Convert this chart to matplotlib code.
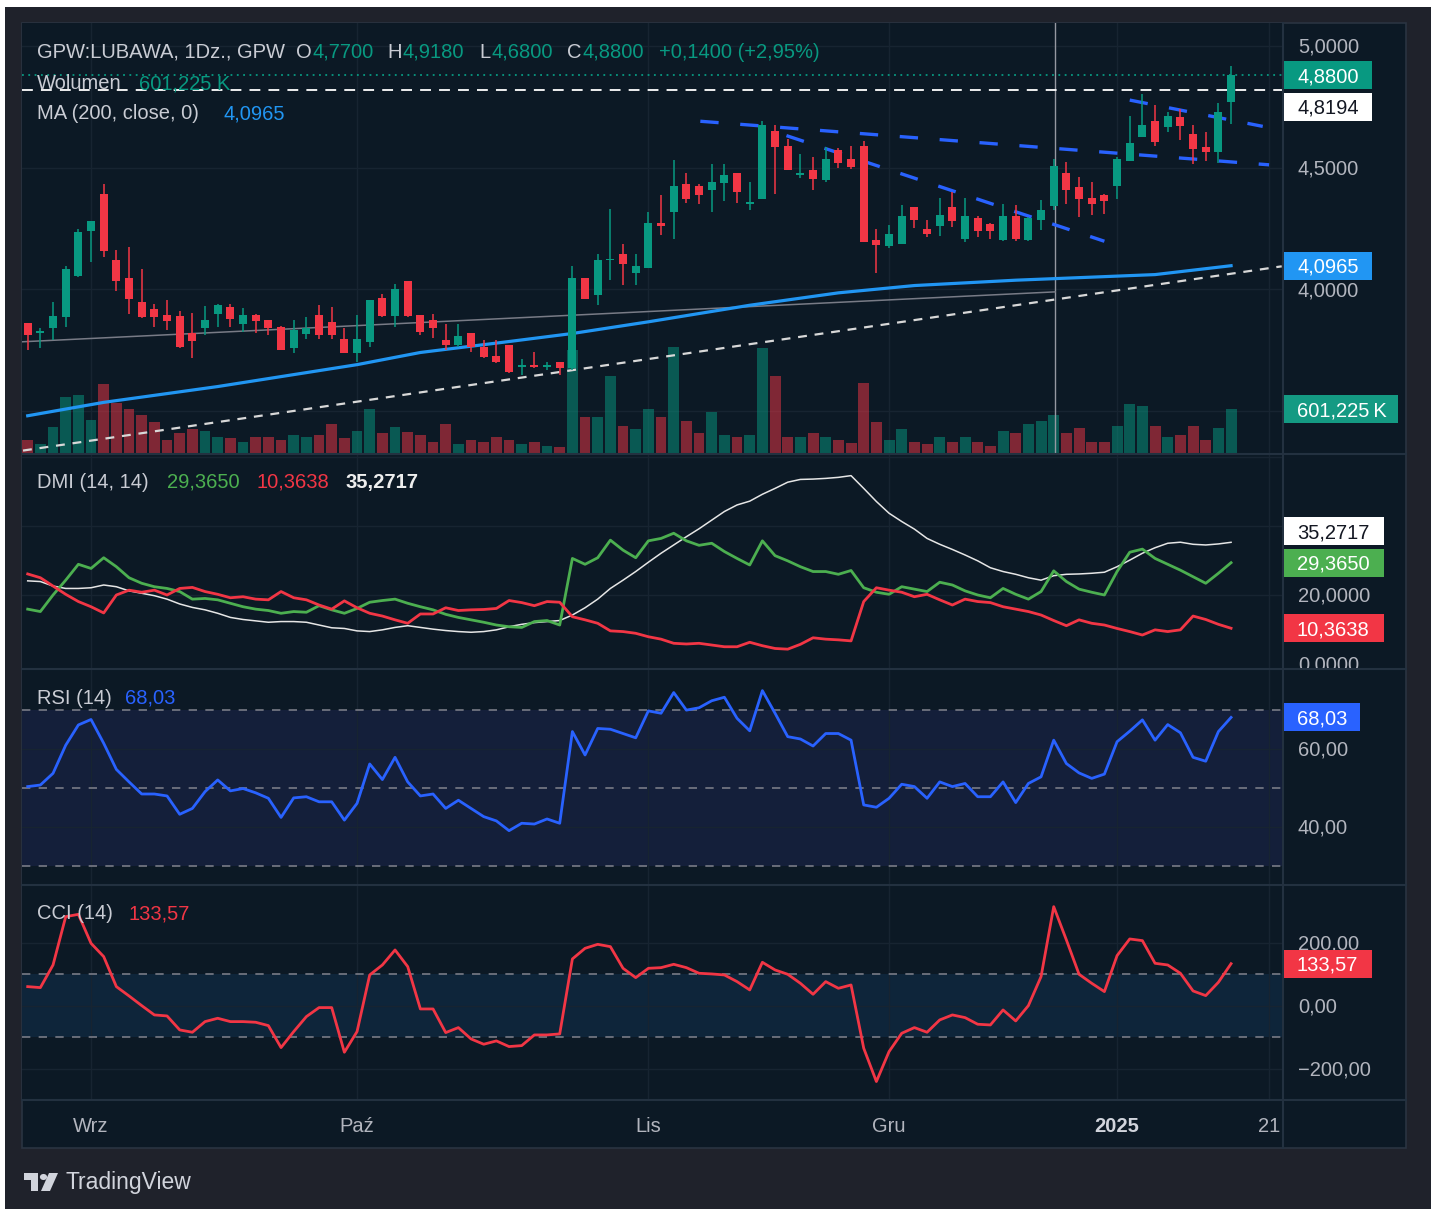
import numpy as np
import matplotlib
matplotlib.use("Agg")
import matplotlib.pyplot as plt
from matplotlib.patches import Rectangle, Circle, Polygon
from matplotlib.lines import Line2D
from matplotlib.transforms import Bbox

# ---- values: GPW:LUBAWA, daily bars, index 0 = 26 Aug 2024 ----
opens = [3.86, 3.82, 3.839, 3.884, 4.053, 4.238, 4.392, 4.119, 4.044, 3.948,
         3.918, 3.896, 3.889, 3.821, 3.842, 3.900, 3.928, 3.857, 3.896, 3.873,
         3.846, 3.757, 3.815, 3.896, 3.866, 3.794, 3.736, 3.784, 3.962, 3.889,
         4.034, 3.893, 3.873, 3.791, 3.770, 3.821, 3.764, 3.725, 3.770, 3.682,
         3.689, 3.679, 3.702, 3.675, 4.044, 3.975, 4.12, 4.146, 4.067, 4.089,
         4.272, 4.317, 4.433, 4.422, 4.406, 4.436, 4.477, 4.35, 4.372, 4.649,
         4.590, 4.47, 4.490, 4.450, 4.57, 4.536, 4.590, 4.204, 4.176, 4.187,
         4.337, 4.246, 4.258, 4.337, 4.208, 4.294, 4.266, 4.204, 4.301, 4.201,
         4.283, 4.340, 4.477, 4.419, 4.374, 4.389, 4.422, 4.525, 4.627, 4.693,
         4.665, 4.709, 4.638, 4.586, 4.563, 4.77]
highs = [3.86, 3.84, 3.948, 4.094, 4.249, 4.279, 4.433, 4.160, 4.173, 4.081,
         3.939, 3.955, 3.91, 3.903, 3.930, 3.94, 3.94, 3.921, 3.90, 3.873,
         3.85, 3.873, 3.884, 3.934, 3.928, 3.839, 3.893, 3.955, 3.982, 4.020,
         4.034, 3.893, 3.90, 3.859, 3.859, 3.821, 3.79, 3.79, 3.770, 3.712,
         3.74, 3.70, 3.702, 4.094, 4.044, 4.146, 4.331, 4.187, 4.146, 4.317,
         4.385, 4.529, 4.477, 4.433, 4.515, 4.515, 4.477, 4.440, 4.690, 4.676,
         4.617, 4.556, 4.542, 4.583, 4.58, 4.590, 4.61, 4.249, 4.262, 4.344,
         4.337, 4.286, 4.376, 4.399, 4.376, 4.30, 4.27, 4.351, 4.344, 4.297,
         4.368, 4.536, 4.522, 4.463, 4.440, 4.39, 4.542, 4.713, 4.802, 4.758,
         4.727, 4.74, 4.676, 4.645, 4.764, 4.918]
lows = [3.75, 3.757, 3.791, 3.846, 4.05, 4.112, 4.133, 3.993, 3.898, 3.88,
        3.846, 3.832, 3.757, 3.716, 3.811, 3.846, 3.846, 3.825, 3.818, 3.811,
        3.75, 3.736, 3.794, 3.794, 3.794, 3.736, 3.702, 3.764, 3.886, 3.846,
        3.884, 3.811, 3.80, 3.750, 3.764, 3.743, 3.716, 3.695, 3.654, 3.648,
        3.675, 3.666, 3.648, 3.668, 3.958, 3.934, 4.037, 4.016, 4.016, 4.089,
        4.221, 4.208, 4.354, 4.348, 4.317, 4.362, 4.354, 4.324, 4.372, 4.392,
        4.488, 4.458, 4.406, 4.440, 4.50, 4.494, 4.194, 4.067, 4.17, 4.187,
        4.253, 4.214, 4.217, 4.255, 4.194, 4.214, 4.208, 4.20, 4.198, 4.198,
        4.245, 4.324, 4.348, 4.296, 4.303, 4.31, 4.372, 4.525, 4.624, 4.590,
        4.645, 4.611, 4.515, 4.526, 4.518, 4.68]
closes = [3.81, 3.83, 3.889, 4.081, 4.235, 4.279, 4.156, 4.033, 3.958, 3.884,
          3.884, 3.869, 3.764, 3.787, 3.873, 3.934, 3.877, 3.896, 3.870, 3.839,
          3.75, 3.832, 3.839, 3.811, 3.811, 3.736, 3.794, 3.955, 3.889, 3.999,
          3.889, 3.825, 3.842, 3.770, 3.807, 3.761, 3.723, 3.702, 3.661, 3.689,
          3.679, 3.689, 3.675, 4.044, 3.958, 4.122, 4.125, 4.105, 4.094, 4.272,
          4.258, 4.426, 4.372, 4.385, 4.440, 4.471, 4.399, 4.36, 4.676, 4.583,
          4.488, 4.478, 4.454, 4.536, 4.52, 4.501, 4.194, 4.180, 4.225, 4.301,
          4.283, 4.228, 4.306, 4.280, 4.301, 4.238, 4.238, 4.301, 4.208, 4.294,
          4.324, 4.508, 4.406, 4.372, 4.348, 4.362, 4.536, 4.601, 4.676, 4.604,
          4.713, 4.672, 4.577, 4.563, 4.727, 4.88]
volume_k = [179, 124, 353, 775, 798, 454, 950, 683, 605, 523,
            422, 179, 271, 326, 303, 225, 202, 147, 225, 225,
            179, 248, 225, 248, 399, 202, 303, 601, 271, 353,
            294, 248, 156, 394, 124, 179, 147, 225, 179, 124,
            147, 101, 78, 1417, 500, 500, 1064, 372, 326, 601,
            500, 1463, 445, 280, 569, 248, 225, 248, 1440, 1064,
            225, 225, 271, 225, 179, 133, 967, 422, 179, 326,
            156, 124, 225, 156, 225, 156, 101, 303, 280, 394,
            445, 523, 280, 349, 147, 147, 372, 670, 647, 372,
            225, 248, 372, 179, 349, 601.225]

ma_idx = [0, 6, 15, 26, 31, 38, 43, 49, 57, 64, 70, 78, 89, 95]
ma_val = [3.48, 3.535, 3.60, 3.69, 3.74, 3.785, 3.818, 3.866, 3.934, 3.985, 4.015, 4.037, 4.06, 4.0965]

plus_di = [15.9, 15.2, 20.0, 24.3, 28.9, 27.7, 30.8, 28.2, 25.0, 23.4,
           22.4, 21.9, 21.0, 18.8, 19.0, 18.6, 17.6, 16.6, 15.9, 15.5,
           14.7, 15.2, 15.0, 16.9, 15.7, 14.7, 16.1, 17.9, 18.4, 18.8,
           17.6, 16.6, 15.7, 14.4, 13.5, 12.8, 12.1, 11.3, 10.8, 10.6,
           12.3, 12.6, 11.3, 30.6, 28.9, 30.8, 35.9, 33.0, 30.8, 35.7,
           36.4, 37.9, 35.7, 34.4, 35.0, 32.6, 30.6, 28.7, 35.7, 31.4,
           29.9, 28.2, 26.8, 26.8, 26.0, 27.1, 22.1, 20.8, 20.2, 22.4,
           21.7, 21.0, 23.7, 22.9, 21.2, 20.0, 19.2, 21.9, 20.2, 18.8,
           21.0, 27.0, 23.9, 21.7, 20.8, 20.0, 26.8, 32.4, 33.3, 30.6,
           28.9, 27.2, 25.3, 23.4, 26.3, 29.365]
minus_di = [26.1, 25.0, 22.6, 20.2, 18.1, 16.6, 14.8, 20.0, 21.4, 20.8,
            21.4, 20.0, 21.9, 22.2, 21.0, 20.2, 19.2, 19.5, 18.8, 18.6,
            21.0, 19.2, 18.6, 17.1, 15.9, 18.3, 16.3, 14.7, 13.9, 12.8,
            11.8, 14.5, 14.5, 16.3, 15.5, 15.7, 15.8, 16.1, 18.4, 17.8,
            16.9, 18.1, 17.9, 13.7, 12.8, 11.8, 9.6, 9.4, 8.9, 7.9,
            7.2, 6.0, 5.8, 6.0, 5.5, 5.0, 5.0, 6.3, 5.3, 4.5,
            4.3, 5.7, 7.6, 7.2, 7.0, 6.7, 18.1, 22.1, 21.4, 20.8,
            19.5, 20.2, 18.6, 17.1, 18.8, 18.1, 17.8, 16.6, 15.9, 15.2,
            14.2, 12.6, 11.1, 12.8, 11.8, 11.3, 10.3, 9.4, 8.4, 9.9,
            9.4, 9.9, 13.9, 12.9, 11.5, 10.3638]
adx = [24.1, 23.9, 22.6, 21.9, 21.9, 22.1, 22.9, 22.4, 21.2, 20.5,
       19.8, 18.8, 17.4, 16.4, 15.7, 14.7, 13.5, 12.9, 12.5, 12.1,
       12.3, 12.3, 12.1, 11.3, 10.5, 10.3, 9.6, 9.4, 9.9, 10.6,
       11.1, 10.6, 10.1, 9.7, 9.4, 9.2, 9.4, 9.9, 10.8, 11.5,
       12.0, 12.3, 12.6, 14.2, 16.3, 18.8, 21.9, 24.3, 26.8, 29.5,
       32.1, 34.5, 36.9, 39.2, 41.7, 44.2, 46.1, 47.2, 49.2, 50.9,
       52.7, 53.5, 53.6, 53.8, 54.1, 54.6, 50.9, 47.1, 43.7, 41.3,
       39.1, 36.4, 34.7, 33.2, 31.6, 29.9, 27.9, 26.8, 26.0, 25.0,
       24.3, 25.6, 26.0, 26.1, 26.3, 26.6, 28.2, 30.1, 32.1, 33.7,
       35.0, 35.3, 34.7, 34.5, 34.8, 35.2717]
rsi = [50.3, 50.7, 53.7, 60.9, 66.1, 67.5, 61.4, 54.7, 51.5, 48.4,
       48.4, 47.9, 43.2, 44.7, 49.0, 52.0, 49.2, 49.8, 48.7, 47.3,
       42.4, 47.4, 47.7, 46.4, 46.4, 41.7, 46.0, 56.1, 52.1, 57.8,
       51.5, 47.9, 48.4, 44.7, 46.8, 44.7, 42.6, 41.5, 39.0, 40.9,
       40.7, 42.0, 40.9, 64.4, 58.4, 65.2, 65.0, 63.9, 62.8, 69.7,
       69.1, 74.4, 69.9, 70.5, 72.3, 73.2, 67.8, 64.6, 74.9, 69.1,
       63.1, 62.5, 60.7, 63.9, 63.9, 62.2, 45.6, 45.0, 47.3, 50.9,
       50.3, 47.3, 51.5, 50.3, 51.1, 47.7, 47.7, 51.5, 46.2, 51.1,
       52.8, 62.2, 56.2, 53.8, 52.4, 53.5, 61.8, 64.5, 67.4, 62.2,
       66.2, 64.1, 57.8, 56.8, 64.4, 68.03]
cci = [60.7, 57.6, 129.5, 282.9, 290.3, 198.3, 156.0, 60.7, 31.1, 0.4,
       -29.2, -32.4, -76.8, -84.2, -50.4, -39.8, -50.4, -50.4, -52.5, -63.1,
       -132.9, -82.1, -34.5, -5.9, -5.9, -147.7, -82.1, 97.8, 129.5, 177.2,
       124.3, -10.2, -10.2, -85.3, -69.4, -105.4, -122.3, -111.7, -129.7, -126.6,
       -92.7, -92.7, -89.5, 148.6, 182.4, 195.1, 187.7, 118.9, 89.3, 118.9,
       121.0, 131.6, 121.0, 103.1, 101.0, 97.8, 76.6, 50.2, 138.0, 113.7,
       99.9, 71.3, 36.4, 76.6, 55.4, 66.0, -135.0, -240.8, -145.6, -87.4,
       -69.4, -84.2, -45.1, -29.2, -37.7, -58.8, -61.0, -13.3, -48.3, 0.4,
       92.5, 314.7, 208.9, 99.9, 71.3, 44.9, 159.2, 212.1, 206.8, 134.8,
       129.5, 103.1, 47.0, 32.2, 74.5, 133.57]

tick_idx = [5, 26, 49, 68, 86, 98]
tick_lab = ["Wrz", "Paź", "Lis", "Gru", "2025", "21"]

# drawings on the chart: (bar index pair, price pair)
gray_line = ([-0.4, 81.1], [3.784, 3.989])
white_trend = ([-0.37, 99.0], [3.337, 4.094])
blue_lines = [([53.1, 98.0], [4.690, 4.511]),
              ([59.9, 85.0], [4.631, 4.197]),
              ([87.0, 97.5], [4.777, 4.669])]
vline_idx = 81.1
ref_level = 4.8194

# ---- style ----
W, H = 1431, 1209
BG = "#0c1925"
FRAME = "#1f222b"
GRID = "#172431"
SEP = "#233140"
TXT = "#b2b5be"
HEAD = "#c9ccd4"
UP, DOWN = "#089981", "#f23645"
FS = 14.5
XMIN, XMAX = -0.45, 99.1
X0, X1, XR = 22, 1283, 1406

plt.rcParams["font.family"] = ["Liberation Sans", "DejaVu Sans"]
plt.rcParams["font.size"] = FS

fig = plt.figure(figsize=(W / 100, H / 100), dpi=100, facecolor="white")
fig.add_artist(Rectangle((5 / W, 0), 1, 1 - 7 / H, transform=fig.transFigure,
                         facecolor=FRAME, edgecolor="none", zorder=-3))
fig.add_artist(Rectangle((X0 / W, 1 - 1148 / H), (XR - X0) / W, (1148 - 23) / H,
                         transform=fig.transFigure, facecolor=BG,
                         edgecolor="#2a3441", lw=1.2, zorder=-2))


def pane(top, bot, face=BG):
    ax = fig.add_axes([X0 / W, 1 - bot / H, (X1 - X0) / W, (bot - top) / H])
    ax.set_facecolor(face)
    ax.set_xlim(XMIN, XMAX)
    for s in ax.spines.values():
        s.set_visible(False)
    ax.set_xticks([])
    ax.set_yticks([])
    return ax


P_TOP, P_BOT = 23, 453
D_TOP, D_BOT = 454, 668
R_TOP, R_BOT = 669, 884
C_TOP, C_BOT = 885, 1100

ax_v = pane(P_TOP, P_BOT)
ax_p = pane(P_TOP, P_BOT, face="none")
ax_d = pane(D_TOP, D_BOT)
ax_r = pane(R_TOP, R_BOT)
ax_c = pane(C_TOP, C_BOT)

ax_p.set_ylim(3.327, 5.0937)
ax_v.set_ylim(0, 5916)
ax_d.set_ylim(-1.16, 60.87)
ax_r.set_ylim(25.33, 80.44)
ax_c.set_ylim(-299.4, 383.5)

x = np.arange(len(closes))
o, h, l, c = map(np.array, (opens, highs, lows, closes))
col = np.where(c >= o, UP, DOWN)

# grid
for ax in (ax_v, ax_d, ax_r, ax_c):
    for t in tick_idx:
        ax.axvline(t, color=GRID, lw=1, zorder=0.2)
for v in (3.5, 4.0, 4.5, 5.0):
    ax_v.plot([0, 1], [v, v], transform=ax_p.get_yaxis_transform(), color=GRID, lw=1, zorder=0.2)
for v in (20, 40, 60):
    ax_d.axhline(v, color=GRID, lw=1, zorder=0.2)
for v in (40, 60):
    ax_r.axhline(v, color=GRID, lw=1, zorder=0.2)
for v in (-200, 0, 200):
    ax_c.axhline(v, color=GRID, lw=1, zorder=0.2)

# volume
ax_v.bar(x, volume_k, width=0.86, color=col, alpha=0.5, lw=0, zorder=1)

# price pane drawings
ax_p.axvline(vline_idx, color="#9598a1", lw=1, zorder=1)
ax_p.plot(*gray_line, color="#787b86", lw=1.1, zorder=2)
ax_p.plot(*white_trend, color="#d8d8d8", lw=1.6, dashes=(4, 3.5), zorder=2)
ax_p.plot(ma_idx, ma_val, color="#2196f3", lw=2.3, zorder=3)
ax_p.axhline(ref_level, color="white", lw=1.3, dashes=(6, 4.5), zorder=2)
ax_p.axhline(closes[-1], color=UP, lw=1.3, dashes=(1, 2.5), zorder=2)
for bx, by in blue_lines:
    ax_p.plot(bx, by, color="#2962ff", lw=2.4, dashes=(5.5, 6.5), zorder=3)

# candles
ax_p.vlines(x, l, h, colors=col, lw=1.1, zorder=4)
ax_p.bar(x, np.maximum(np.abs(c - o), 0.004), bottom=np.minimum(o, c),
         width=0.64, color=col, lw=0, zorder=5)

# DMI
ax_d.plot(x, adx, color="#e6e6e6", lw=1.1, zorder=2)
ax_d.plot(x, plus_di, color="#4caf50", lw=2.0, zorder=3)
ax_d.plot(x, minus_di, color=DOWN, lw=2.0, zorder=3)

# RSI
ax_r.axhspan(30, 70, color="#141f3a", lw=0, zorder=0.1)
for v in (30, 50, 70):
    ax_r.axhline(v, color="#787b86", lw=1.2, dashes=(5, 5), zorder=1)
ax_r.plot(x, rsi, color="#2962ff", lw=2.0, zorder=3)

# CCI
ax_c.axhspan(-100, 100, color="#0e253a", lw=0, zorder=0.1)
for v in (-100, 100):
    ax_c.axhline(v, color="#787b86", lw=1.2, dashes=(5, 5), zorder=1)
ax_c.plot(x, cci, color=DOWN, lw=2.0, zorder=3)

# time axis
ax_c.set_xticks(tick_idx)
ax_c.set_xticklabels(tick_lab)
ax_c.tick_params(axis="x", length=0, pad=12, colors=TXT, labelsize=FS)
ax_c.get_xticklabels()[4].set_fontweight("bold")
ax_c.get_xticklabels()[4].set_color("#d1d4dc")

# separators
for y in (453.5, 668.5, 884.5, 1100):
    fig.add_artist(Line2D([X0 / W, XR / W], [1 - y / H, 1 - y / H],
                          transform=fig.transFigure, color=SEP, lw=1.5, zorder=1))
fig.add_artist(Line2D([X1 / W + 0.0003, X1 / W + 0.0003], [1 - 1148 / H, 1 - 23 / H],
                      transform=fig.transFigure, color=SEP, lw=1.5, zorder=1))


def ypix(ax, v):
    return H - ax.transData.transform((0, v))[1]


def axis_label(ax, top, bot, v, s):
    t = fig.text(1298 / W, 1 - (ypix(ax, v) + 1.5) / H, s, color=TXT, va="center", ha="left",
                 fontsize=FS, zorder=3)
    t.set_clip_box(Bbox.from_extents(X1, H - bot, XR, H - top))
    t.set_clip_on(True)


def tag(ax, v, s, bg, fg, width, dy=0):
    y = ypix(ax, v) + dy
    fig.add_artist(Rectangle((1284 / W, 1 - (y + 14) / H), width / W, 28 / H,
                             transform=fig.transFigure, facecolor=bg, edgecolor="none", zorder=4))
    fig.text(1297 / W, 1 - (y + 1.5) / H, s, color=fg, va="center", ha="left", fontsize=FS, zorder=5)


for v, s in ((5.0, "5,0000"), (4.5, "4,5000"), (4.0, "4,0000")):
    axis_label(ax_p, P_TOP, P_BOT, v, s)
for v, s in ((40, "40,0000"), (20, "20,0000"), (0, "0,0000")):
    axis_label(ax_d, D_TOP, D_BOT, v, s)
for v, s in ((60, "60,00"), (40, "40,00")):
    axis_label(ax_r, R_TOP, R_BOT, v, s)
for v, s in ((200, "200,00"), (0, "0,00"), (-200, "\u2212200,00")):
    axis_label(ax_c, C_TOP, C_BOT, v, s)

tag(ax_p, closes[-1], "4,8800", UP, "white", 88)
tag(ax_p, ref_level, "4,8194", "white", "#131722", 88, dy=17)
tag(ax_p, ma_val[-1], "4,0965", "#2196f3", "white", 88)
tag(ax_v, volume_k[-1], "601,225\u2009K", "#149a83", "white", 114)
tag(ax_d, adx[-1], "35,2717", "white", "#131722", 100, dy=-11)
tag(ax_d, plus_di[-1], "29,3650", "#4caf50", "white", 100)
tag(ax_d, minus_di[-1], "10,3638", DOWN, "white", 100)
tag(ax_r, rsi[-1], "68,03", "#2962ff", "white", 76)
tag(ax_c, cci[-1], "133,57", DOWN, "white", 88)

renderer = fig.canvas.get_renderer()


def head(xp, yp, s, color=HEAD, **kw):
    return fig.text(xp / W, 1 - (yp + 1.5) / H, s, color=color, va="center", ha="left",
                    fontsize=FS, zorder=6, **kw)


def head_pair(xp, yp, label, value, vcolor):
    t = head(xp, yp, label)
    x_end = t.get_window_extent(renderer).x1
    head(x_end + 1, yp, value, color=vcolor)


head(37, 51, "GPW:LUBAWA, 1Dz., GPW")
for xl, lab, val in ((296, "O", "4,7700"), (387, "H", "4,9180"),
                     (479, "L", "4,6800"), (567, "C", "4,8800")):
    head_pair(xl, 51, lab, val, UP)
head(659, 51, "+0,1400 (+2,95%)", color=UP)
head(37, 82, "Wolumen")
head(139, 82, "601,225 K", color=UP)
head(37, 112, "MA (200, close, 0)")
head(224, 112, "4,0965", color="#2196f3")
head(37, 481, "DMI (14, 14)")
head(167, 481, "29,3650", color="#4caf50")
head(256, 481, "10,3638", color=DOWN)
head(345, 481, "35,2717", color="#eeeeee", fontweight="bold")
head(37, 697, "RSI (14)")
head(125, 697, "68,03", color="#2962ff")
head(37, 912, "CCI (14)")
head(128, 912, "133,57", color=DOWN)

# footer: TradingView mark and name
LOGO = "#d1d4dc"
fig.add_artist(Rectangle((24 / W, 1 - 1180 / H), 14 / W, 7 / H, transform=fig.transFigure,
                         facecolor=LOGO, edgecolor="none"))
fig.add_artist(Rectangle((31 / W, 1 - 1191 / H), 7 / W, 18 / H, transform=fig.transFigure,
                         facecolor=LOGO, edgecolor="none"))
fig.add_artist(Circle((43.5 / W, 1 - 1177 / H), 3.6 / W, transform=fig.transFigure,
                      facecolor=LOGO, edgecolor="none"))
fig.add_artist(Polygon([(49 / W, 1 - 1173 / H), (58 / W, 1 - 1173 / H),
                        (50 / W, 1 - 1191 / H), (41 / W, 1 - 1191 / H)],
                       closed=True, transform=fig.transFigure, facecolor=LOGO, edgecolor="none"))
fig.text(65 / W, 1 - 1183 / H, "TradingView", color=LOGO, va="center", ha="left", fontsize=16.5)

fig.savefig("out.png", dpi=100, facecolor=fig.get_facecolor())
